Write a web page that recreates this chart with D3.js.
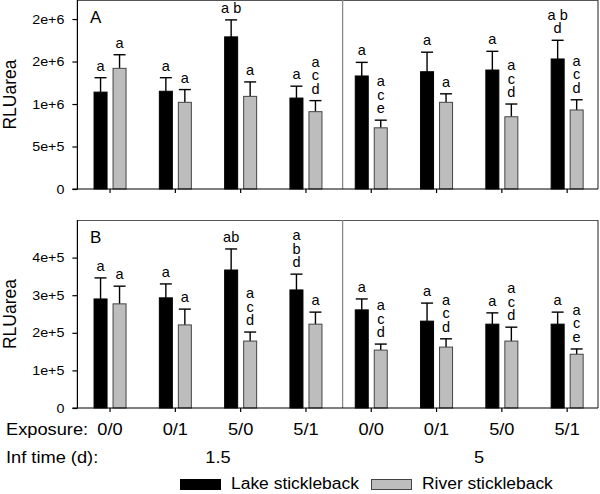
<!DOCTYPE html>
<html><head><meta charset="utf-8">
<script src="https://cdn.jsdelivr.net/npm/d3@7"></script>
<style>body{margin:0;background:#fff}svg{display:block}text{font-family:"Liberation Sans",Arial,Helvetica,sans-serif;fill:#000}</style>
</head><body>
<svg id="chart" width="600" height="494"></svg>
<script>
// ---------- data ----------
const exposure = ["0/0","0/1","5/0","5/1","0/0","0/1","5/0","5/1"];
const infTime = ["1.5","1.5","1.5","1.5","5","5","5","5"];
const infGroups = ["1.5","5"];
const series = ["Lake stickleback","River stickleback"];

const lakeA = [1.14e6,1.15e6,1.79e6,1.07e6,1.33e6,1.38e6,1.40e6,1.53e6];
const lakeAErr = [0.17e6,0.16e6,0.20e6,0.14e6,0.16e6,0.23e6,0.22e6,0.22e6];
const riverA = [1.42e6,1.02e6,1.09e6,0.91e6,0.72e6,1.02e6,0.85e6,0.93e6];
const riverAErr = [0.16e6,0.15e6,0.17e6,0.13e6,0.09e6,0.10e6,0.15e6,0.12e6];

const lakeB = [2.90e5,2.93e5,3.67e5,3.14e5,2.61e5,2.31e5,2.23e5,2.23e5];
const lakeBErr = [0.56e5,0.37e5,0.56e5,0.42e5,0.29e5,0.48e5,0.30e5,0.32e5];
const riverB = [2.77e5,2.21e5,1.78e5,2.23e5,1.54e5,1.62e5,1.78e5,1.43e5];
const riverBErr = [0.47e5,0.42e5,0.24e5,0.32e5,0.16e5,0.22e5,0.37e5,0.14e5];

const lettersLakeA = [["a"],["a"],["a b"],["a"],["a"],["a"],["a"],["a b","d"]];
const lettersRiverA = [["a"],["a"],["a"],["a","c","d"],["a","c","e"],["a"],["a","c","d"],["a","c","d"]];
const lettersLakeB = [["a"],["a"],["ab"],["a","b","d"],["a"],["a"],["a"],["a"]];
const lettersRiverB = [["a"],["a"],["a","c","d"],["a"],["a","c","d"],["a","c","d"],["a","c","d"],["a","c","e"]];

const ticksA = [0,5e5,1e6,1.5e6,2e6];
const tickLabelsA = ["0","5e+5","1e+6","2e+6","2e+6"];
const ticksB = [0,1e5,2e5,3e5,4e5];
const tickLabelsB = ["0","1e+5","2e+5","3e+5","4e+5"];
const domainA = [0,2.224e6];
const domainB = [0,5e5];
const yTitle = "RLUarea";

// ---------- layout ----------
const svg = d3.select("#chart");
const left = 77.4, right = 599.8, frameRight = 598;
const cats = exposure.map((e,i)=>infTime[i]+"|"+e);
const x0 = d3.scaleBand().domain(cats).range([left,right]);
const x1 = d3.scaleBand().domain(series).range([-16.5,16.5]).paddingInner(5/19);
const colors = {"Lake stickleback":"#000","River stickleback":"#bdbdbd"};
const strokes = {"Lake stickleback":"#000","River stickleback":"#444"};
const lineGap = 13.5;

function widen(sel, f){
  sel.each(function(){
    const w = this.getComputedTextLength();
    d3.select(this).attr("textLength", w*f).attr("lengthAdjust","spacingAndGlyphs");
  });
}

function panel(cfg){
  const y = d3.scaleLinear().domain(cfg.domain).range([cfg.bottom,cfg.top]);
  const g = svg.append("g");
  g.append("line").attr("x1",left).attr("x2",frameRight).attr("y1",cfg.top+0.5).attr("y2",cfg.top+0.5).attr("stroke","#555").attr("stroke-width",1.2);
  g.append("line").attr("x1",frameRight).attr("x2",frameRight).attr("y1",cfg.top).attr("y2",cfg.bottom).attr("stroke","#444").attr("stroke-width",1.2);
  const sx = x0(cats[4]) + 4;
  g.append("line").attr("x1",sx).attr("x2",sx).attr("y1",cfg.top).attr("y2",cfg.bottom).attr("stroke","#888").attr("stroke-width",1.3);
  const rows = cats.map((c,i)=>[
    {c, s:series[0], v:cfg.lake[i], e:cfg.lakeErr[i], L:cfg.lakeL[i]},
    {c, s:series[1], v:cfg.river[i], e:cfg.riverErr[i], L:cfg.riverL[i]}
  ]).flat();
  const bx = d => x0(d.c)+x0.bandwidth()/2 + x1(d.s);
  const cx = d => bx(d) + x1.bandwidth()/2;
  g.selectAll(".err").data(rows).join("line").attr("class","err")
    .attr("x1",cx).attr("x2",cx).attr("y1",d=>y(d.v)).attr("y2",d=>y(d.v+d.e))
    .attr("stroke","#000").attr("stroke-width",1.4);
  g.selectAll(".cap").data(rows).join("line").attr("class","cap")
    .attr("x1",d=>cx(d)-6).attr("x2",d=>cx(d)+6).attr("y1",d=>y(d.v+d.e)).attr("y2",d=>y(d.v+d.e))
    .attr("stroke","#000").attr("stroke-width",1.4);
  g.selectAll(".bar").data(rows).join("rect").attr("class","bar")
    .attr("x",d=>bx(d)+0.5).attr("width",x1.bandwidth()-1)
    .attr("y",d=>y(d.v)).attr("height",d=>y(0)-y(d.v))
    .attr("fill",d=>colors[d.s]).attr("stroke",d=>strokes[d.s]).attr("stroke-width",1);
  // significance letters: one text element per stack, lines as tspans
  g.selectAll(".sig").data(rows).join("text").attr("class","sig")
    .attr("text-anchor","middle").attr("font-size",14.5)
    .attr("x",cx)
    .attr("y",d=>y(d.v+d.e)-7-(d.L.length-1)*lineGap)
    .each(function(d){
      const t = d3.select(this);
      d.L.forEach((s,k)=>{
        t.append("tspan").attr("x",cx(d)).attr("dy",k===0?0:lineGap).text(s);
      });
    });
  const ya = d3.axisLeft(y).tickValues(cfg.ticks).tickFormat((d,i)=>cfg.tickLabels[i]).tickSize(5).tickPadding(8);
  const yg = g.append("g").attr("transform",`translate(${left},0)`).call(ya);
  yg.select(".domain").attr("stroke","#000").attr("stroke-width",1.2).attr("d",`M-5,${cfg.bottom}H0V${cfg.top}`);
  yg.selectAll(".tick line").attr("stroke","#000").attr("stroke-width",1.2);
  yg.selectAll(".tick text").attr("font-size",13).attr("font-family","Liberation Sans, Arial, sans-serif").attr("fill","#000");
  widen(yg.selectAll(".tick text"), 1.1);
  const xa = d3.axisBottom(x0).tickSize(4).tickFormat("");
  const xg = g.append("g").attr("transform",`translate(0,${cfg.bottom})`).call(xa);
  xg.select(".domain").attr("stroke","#000").attr("stroke-width",1.2).attr("d",`M${left},0H${frameRight}`);
  xg.selectAll(".tick line").attr("stroke","#000").attr("stroke-width",1.2);
  g.append("text").attr("transform",`translate(16,${(cfg.top+cfg.bottom)/2}) rotate(-90)`)
    .attr("text-anchor","middle").attr("font-size",17.5).text(yTitle);
  g.append("text").attr("x",90).attr("y",cfg.top+23).attr("font-size",17).text(cfg.label);
  return y;
}

panel({top:0, bottom:189, domain:domainA, lake:lakeA, lakeErr:lakeAErr, river:riverA, riverErr:riverAErr,
  lakeL:lettersLakeA, riverL:lettersRiverA, ticks:ticksA, tickLabels:tickLabelsA, label:"A"});
panel({top:220, bottom:408, domain:domainB, lake:lakeB, lakeErr:lakeBErr, river:riverB, riverErr:riverBErr,
  lakeL:lettersLakeB, riverL:lettersRiverB, ticks:ticksB, tickLabels:tickLabelsB, label:"B"});

// bottom labels
const fs = 16;
const bl = svg.append("g");
bl.append("text").attr("x",6).attr("y",435).attr("font-size",fs).text("Exposure:");
bl.selectAll(".expo").data(cats).join("text").attr("class","expo")
  .attr("x",d=>x0(d)+x0.bandwidth()/2).attr("y",435).attr("text-anchor","middle").attr("font-size",fs)
  .text((d,i)=>exposure[i]);
bl.append("text").attr("x",6).attr("y",463).attr("font-size",fs).text("Inf time (d):");
bl.selectAll(".inf").data(infGroups).join("text").attr("class","inf")
  .attr("x",gname=>{const cs=cats.filter((c,i)=>infTime[i]===gname);return (x0(cs[0])+x0(cs[cs.length-1])+x0.bandwidth())/2+10;})
  .attr("y",463).attr("text-anchor","middle").attr("font-size",fs).text(d=>d);
widen(bl.selectAll("text"), 1.14);

// legend
const leg = svg.append("g").attr("transform","translate(180,479)");
const legX = [0,191];
series.forEach((s,i)=>{
  leg.append("rect").attr("x",legX[i]+0.5).attr("y",0.5).attr("width",40).attr("height",10)
    .attr("fill",colors[s]).attr("stroke",strokes[s]).attr("stroke-width",1);
  leg.append("text").attr("x",legX[i]+51).attr("y",10).attr("font-size",fs).text(s);
});
widen(leg.selectAll("text"), 1.09);
</script>
</body></html>
